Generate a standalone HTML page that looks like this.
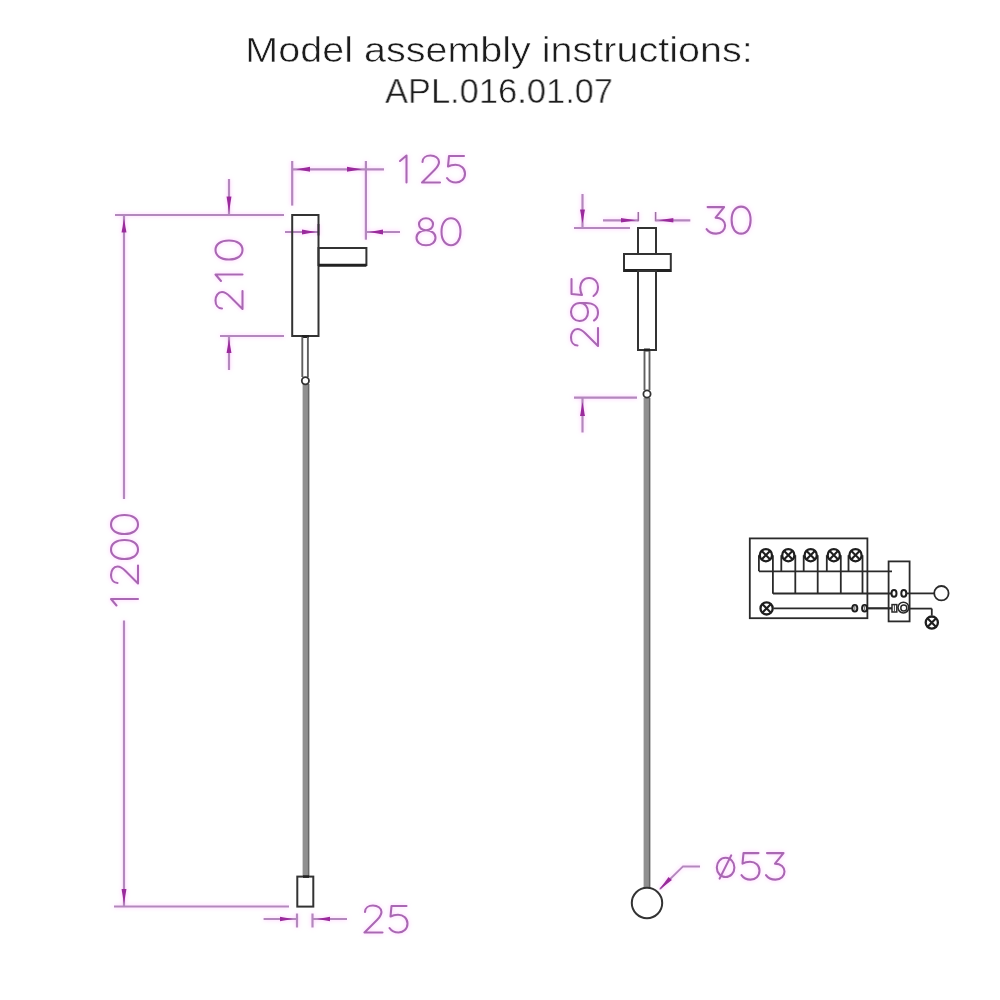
<!DOCTYPE html>
<html><head><meta charset="utf-8"><title>Model assembly instructions</title>
<style>
html,body{margin:0;padding:0;background:#fff;}
body{width:1000px;height:1000px;position:relative;overflow:hidden;font-family:"Liberation Sans",sans-serif;}
.t{will-change:transform;-webkit-text-stroke:0.55px #fff;position:absolute;left:0;width:1000px;text-align:center;color:#1c1c1c;font-size:35px;line-height:normal;white-space:nowrap;}
</style></head><body>
<div class="t" id="l1" style="top:29.8px;left:-1px;transform:scaleX(1.129)">Model assembly instructions:</div>
<div class="t" id="l2" style="top:71.3px;left:-1.5px;transform:scaleX(0.985)">APL.016.01.07</div>
<svg width="1000" height="1000" viewBox="0 0 1000 1000" style="position:absolute;left:0;top:0">
<defs><filter id="halo" x="-2%" y="-2%" width="104%" height="104%">
<feGaussianBlur in="SourceAlpha" stdDeviation="2" result="b"/>
<feColorMatrix in="b" type="matrix" values="0 0 0 0 1  0 0 0 0 0.42  0 0 0 0 1  0 0 0 0.7 0" result="p"/>
<feGaussianBlur in="SourceGraphic" stdDeviation="0.5" result="s"/>
<feMerge><feMergeNode in="p"/><feMergeNode in="s"/></feMerge>
</filter></defs>
<g filter="url(#halo)">
<g><line x1="115" y1="215" x2="284" y2="215" stroke="#b288bc" stroke-width="2.2"/><line x1="124" y1="215" x2="124" y2="499" stroke="#b288bc" stroke-width="2.2"/><line x1="124" y1="620.5" x2="124" y2="906.5" stroke="#b288bc" stroke-width="2.2"/><polygon points="124.0,218.5 121.5,232.5 126.5,232.5" fill="#9a2c9c"/><polygon points="124.0,904.0 121.5,889.0 126.5,889.0" fill="#9a2c9c"/><line x1="114" y1="906.5" x2="289" y2="906.5" stroke="#b288bc" stroke-width="2.2"/><line x1="229" y1="179" x2="229" y2="215" stroke="#b288bc" stroke-width="2.2"/><polygon points="229.0,212.5 226.5,196.5 231.5,196.5" fill="#9a2c9c"/><line x1="220" y1="336" x2="284" y2="336" stroke="#b288bc" stroke-width="2.2"/><line x1="229" y1="336" x2="229" y2="370" stroke="#b288bc" stroke-width="2.2"/><polygon points="229.0,339.0 226.5,353.0 231.5,353.0" fill="#9a2c9c"/><line x1="292.2" y1="161" x2="292.2" y2="205.6" stroke="#b288bc" stroke-width="2.2"/><line x1="365.9" y1="161" x2="365.9" y2="239.7" stroke="#b288bc" stroke-width="2.2"/><line x1="292" y1="169.3" x2="384" y2="169.3" stroke="#b288bc" stroke-width="2.2"/><polygon points="296.0,169.3 310.0,166.8 310.0,171.8" fill="#9a2c9c"/><polygon points="362.0,169.3 347.0,166.8 347.0,171.8" fill="#9a2c9c"/><line x1="285" y1="232" x2="318.5" y2="232" stroke="#b288bc" stroke-width="2.2"/><polygon points="316.0,232.0 302.0,229.5 302.0,234.5" fill="#9a2c9c"/><line x1="318.5" y1="224" x2="318.5" y2="235.5" stroke="#5a3a6a" stroke-width="2"/><line x1="366" y1="232" x2="400" y2="232" stroke="#b288bc" stroke-width="2.2"/><polygon points="369.0,232.0 383.0,229.5 383.0,234.5" fill="#9a2c9c"/><line x1="263.6" y1="919" x2="297" y2="919" stroke="#b288bc" stroke-width="2.2"/><polygon points="293.0,919.0 280.0,916.8 280.0,921.2" fill="#9a2c9c"/><line x1="297" y1="913.5" x2="297" y2="927.5" stroke="#b288bc" stroke-width="2.2"/><line x1="312.5" y1="913.5" x2="312.5" y2="927.5" stroke="#b288bc" stroke-width="2.2"/><line x1="312.5" y1="919" x2="347" y2="919" stroke="#b288bc" stroke-width="2.2"/><polygon points="317.0,919.0 330.0,916.8 330.0,921.2" fill="#9a2c9c"/><line x1="582.5" y1="194" x2="582.5" y2="228" stroke="#b288bc" stroke-width="2.2"/><polygon points="582.5,223.5 580.0,209.5 585.0,209.5" fill="#9a2c9c"/><line x1="574" y1="228" x2="630" y2="228" stroke="#b288bc" stroke-width="2.2"/><line x1="603" y1="220.3" x2="638.3" y2="220.3" stroke="#b288bc" stroke-width="2.2"/><polygon points="636.0,220.3 621.0,218.1 621.0,222.6" fill="#9a2c9c"/><line x1="638.3" y1="212" x2="638.3" y2="221.3" stroke="#9a70a0" stroke-width="1.6"/><line x1="655.6" y1="212" x2="655.6" y2="221.3" stroke="#9a70a0" stroke-width="1.6"/><line x1="655.6" y1="220.3" x2="690.3" y2="220.3" stroke="#b288bc" stroke-width="2.2"/><polygon points="658.4,220.3 673.4,218.1 673.4,222.6" fill="#9a2c9c"/><line x1="574" y1="397.7" x2="637" y2="397.7" stroke="#b288bc" stroke-width="2.2"/><line x1="582.5" y1="398" x2="582.5" y2="432.5" stroke="#b288bc" stroke-width="2.2"/><polygon points="582.5,402.0 580.0,416.0 585.0,416.0" fill="#9a2c9c"/><polyline points="660,889 683,866.4 700,866.4" fill="none" stroke="#b288bc" stroke-width="2"/><polygon points="659,890 668.5,877 672,880" fill="#9a2c9c"/></g>
<g fill="none" stroke="#a868b2" stroke-width="2.1" stroke-linecap="round" stroke-linejoin="round"><g transform="translate(396.5,155.5)"><path transform="translate(0,0)" d="M3.5,5.5 L10,0 L10,27"/><path transform="translate(25,0)" d="M1,6.5 C1,2.5 4.5,0 9,0 C13.5,0 17.5,2.5 17.5,6.5 C17.5,9.5 15.5,12 13,14.5 L0.5,27 L18.5,27"/><path transform="translate(50,0)" d="M17.5,0.5 L2.5,0.5 L1.5,11 C3.5,9.8 6,9.2 9,9.2 C14.5,9.2 18.5,12.8 18.5,18 C18.5,23.5 14.5,27 9.5,27 C5.5,27 2.5,25.5 0.5,22.5"/></g><g transform="translate(416.5,218.3)"><path transform="translate(0,0)" d="M9.5,0 C13.5,0 16.5,2.5 16.5,6 C16.5,9.5 13.5,12 9.5,12 C5.5,12 2.5,9.5 2.5,6 C2.5,2.5 5.5,0 9.5,0 Z M9.5,12 C15,12 19,15 19,19.5 C19,24 15,27 9.5,27 C4,27 0,24 0,19.5 C0,15 4,12 9.5,12 Z"/><path transform="translate(25,0)" d="M9.5,0 C15,0 19,5 19,13.5 C19,22 15,27 9.5,27 C4,27 0,22 0,13.5 C0,5 4,0 9.5,0 Z"/></g><g transform="translate(706.6,206.6)"><path transform="translate(0,0)" d="M1,0.5 L17.5,0.5 L9,11 C15,11 18.5,14.5 18.5,19 C18.5,23.5 15,27 9.5,27 C5,27 2,25.5 0,22.5"/><path transform="translate(25,0)" d="M9.5,0 C15,0 19,5 19,13.5 C19,22 15,27 9.5,27 C4,27 0,22 0,13.5 C0,5 4,0 9.5,0 Z"/></g><g transform="translate(364,905.5)"><path transform="translate(0,0)" d="M1,6.5 C1,2.5 4.5,0 9,0 C13.5,0 17.5,2.5 17.5,6.5 C17.5,9.5 15.5,12 13,14.5 L0.5,27 L18.5,27"/><path transform="translate(25,0)" d="M17.5,0.5 L2.5,0.5 L1.5,11 C3.5,9.8 6,9.2 9,9.2 C14.5,9.2 18.5,12.8 18.5,18 C18.5,23.5 14.5,27 9.5,27 C5.5,27 2.5,25.5 0.5,22.5"/></g><g transform="translate(716,852.6)"><path transform="translate(0,0)" d="M9.6,5.2 C14.5,5.2 18.4,9.5 18.4,14.8 C18.4,20.1 14.5,24.4 9.6,24.4 C4.7,24.4 0.8,20.1 0.8,14.8 C0.8,9.5 4.7,5.2 9.6,5.2 Z M3.6,26 L15.2,2.8"/><path transform="translate(25,0)" d="M17.5,0.5 L2.5,0.5 L1.5,11 C3.5,9.8 6,9.2 9,9.2 C14.5,9.2 18.5,12.8 18.5,18 C18.5,23.5 14.5,27 9.5,27 C5.5,27 2.5,25.5 0.5,22.5"/><path transform="translate(50,0)" d="M1,0.5 L17.5,0.5 L9,11 C15,11 18.5,14.5 18.5,19 C18.5,23.5 15,27 9.5,27 C5,27 2,25.5 0,22.5"/></g><g transform="translate(215.5,309.5) rotate(-90)"><path transform="translate(0,0)" d="M1,6.5 C1,2.5 4.5,0 9,0 C13.5,0 17.5,2.5 17.5,6.5 C17.5,9.5 15.5,12 13,14.5 L0.5,27 L18.5,27"/><path transform="translate(25,0)" d="M3.5,5.5 L10,0 L10,27"/><path transform="translate(50,0)" d="M9.5,0 C15,0 19,5 19,13.5 C19,22 15,27 9.5,27 C4,27 0,22 0,13.5 C0,5 4,0 9.5,0 Z"/></g><g transform="translate(111,609) rotate(-90)"><path transform="translate(0,0)" d="M3.5,5.5 L10,0 L10,27"/><path transform="translate(25,0)" d="M1,6.5 C1,2.5 4.5,0 9,0 C13.5,0 17.5,2.5 17.5,6.5 C17.5,9.5 15.5,12 13,14.5 L0.5,27 L18.5,27"/><path transform="translate(50,0)" d="M9.5,0 C15,0 19,5 19,13.5 C19,22 15,27 9.5,27 C4,27 0,22 0,13.5 C0,5 4,0 9.5,0 Z"/><path transform="translate(75,0)" d="M9.5,0 C15,0 19,5 19,13.5 C19,22 15,27 9.5,27 C4,27 0,22 0,13.5 C0,5 4,0 9.5,0 Z"/></g><g transform="translate(571,346.5) rotate(-90)"><path transform="translate(0,0)" d="M1,6.5 C1,2.5 4.5,0 9,0 C13.5,0 17.5,2.5 17.5,6.5 C17.5,9.5 15.5,12 13,14.5 L0.5,27 L18.5,27"/><path transform="translate(25,0)" d="M18.5,9 C18.5,14 14.5,17 9.5,17 C4.5,17 0.5,14 0.5,8.5 C0.5,3.5 4.5,0 9.5,0 C14.5,0 18.5,3.5 18.5,9 L18.5,15 C18.5,23 14.5,27 9,27 C5,27 2.5,25.5 1,23"/><path transform="translate(50,0)" d="M17.5,0.5 L2.5,0.5 L1.5,11 C3.5,9.8 6,9.2 9,9.2 C14.5,9.2 18.5,12.8 18.5,18 C18.5,23.5 14.5,27 9.5,27 C5.5,27 2.5,25.5 0.5,22.5"/></g></g>
</g>
<g><rect x="292.2" y="215" width="26.3" height="121" fill="none" stroke="#333" stroke-width="2"/><rect x="318.5" y="248" width="47.9" height="17" fill="none" stroke="#333" stroke-width="2"/><line x1="318.5" y1="265.3" x2="366.4" y2="265.3" stroke="#222" stroke-width="3"/><line x1="302" y1="336.5" x2="309" y2="336.5" stroke="#222" stroke-width="3"/><line x1="302.3" y1="337" x2="302.3" y2="377" stroke="#606060" stroke-width="1.9"/><line x1="307.9" y1="337" x2="307.9" y2="377" stroke="#606060" stroke-width="1.9"/><rect x="302.6" y="384" width="6.6" height="492.6" fill="#909090"/><line x1="308.6" y1="384" x2="308.6" y2="876.6" stroke="#666" stroke-width="1.4"/><circle cx="305.4" cy="380.8" r="3.6" fill="#fff" stroke="#333" stroke-width="1.8"/><rect x="297.3" y="876.6" width="16" height="30" fill="none" stroke="#333" stroke-width="2"/><line x1="303" y1="876.6" x2="309" y2="876.6" stroke="#222" stroke-width="2.5"/><rect x="638" y="228" width="18" height="26" fill="none" stroke="#333" stroke-width="2"/><rect x="624" y="254" width="46.8" height="17" fill="none" stroke="#333" stroke-width="2"/><line x1="624" y1="270.5" x2="670.8" y2="270.5" stroke="#222" stroke-width="3"/><rect x="638" y="271" width="18" height="79" fill="none" stroke="#333" stroke-width="2"/><line x1="644" y1="350" x2="650" y2="350" stroke="#222" stroke-width="3"/><line x1="644.5" y1="351" x2="644.5" y2="390" stroke="#606060" stroke-width="1.9"/><line x1="649.5" y1="351" x2="649.5" y2="390" stroke="#606060" stroke-width="1.9"/><rect x="643.6" y="398" width="6.6" height="490" fill="#909090"/><line x1="649.6" y1="398" x2="649.6" y2="888" stroke="#666" stroke-width="1.4"/><circle cx="647" cy="394" r="3.6" fill="#fff" stroke="#333" stroke-width="1.8"/><circle cx="647" cy="903" r="15.2" fill="none" stroke="#333" stroke-width="2"/></g>
<g><rect x="749.8" y="538.4" width="117.6" height="79.8" fill="none" stroke="#2a2a2a" stroke-width="1.8"/><rect x="888.6" y="561.4" width="21" height="60" fill="none" stroke="#2a2a2a" stroke-width="1.8"/><line x1="758.9" y1="555.2" x2="758.9" y2="571.3" stroke="#2a2a2a" stroke-width="1.8"/><line x1="772.9" y1="555.2" x2="772.9" y2="593.7" stroke="#2a2a2a" stroke-width="1.8"/><circle cx="765.9" cy="555.2" r="6.1" fill="#fff" stroke="#1e1e1e" stroke-width="2.3"/><path d="M761.3,550.6 L770.5,559.8 M770.5,550.6 L761.3,559.8" stroke="#1e1e1e" stroke-width="2.1"/><line x1="781.3" y1="555.2" x2="781.3" y2="571.3" stroke="#2a2a2a" stroke-width="1.8"/><line x1="795.3" y1="555.2" x2="795.3" y2="593.7" stroke="#2a2a2a" stroke-width="1.8"/><circle cx="788.3" cy="555.2" r="6.1" fill="#fff" stroke="#1e1e1e" stroke-width="2.3"/><path d="M783.7,550.6 L792.9,559.8 M792.9,550.6 L783.7,559.8" stroke="#1e1e1e" stroke-width="2.1"/><line x1="803.7" y1="555.2" x2="803.7" y2="571.3" stroke="#2a2a2a" stroke-width="1.8"/><line x1="817.7" y1="555.2" x2="817.7" y2="593.7" stroke="#2a2a2a" stroke-width="1.8"/><circle cx="810.7" cy="555.2" r="6.1" fill="#fff" stroke="#1e1e1e" stroke-width="2.3"/><path d="M806.1,550.6 L815.3,559.8 M815.3,550.6 L806.1,559.8" stroke="#1e1e1e" stroke-width="2.1"/><line x1="826.8" y1="555.2" x2="826.8" y2="571.3" stroke="#2a2a2a" stroke-width="1.8"/><line x1="840.8" y1="555.2" x2="840.8" y2="593.7" stroke="#2a2a2a" stroke-width="1.8"/><circle cx="833.8" cy="555.2" r="6.1" fill="#fff" stroke="#1e1e1e" stroke-width="2.3"/><path d="M829.2,550.6 L838.4,559.8 M838.4,550.6 L829.2,559.8" stroke="#1e1e1e" stroke-width="2.1"/><line x1="848.5" y1="555.2" x2="848.5" y2="571.3" stroke="#2a2a2a" stroke-width="1.8"/><line x1="862.5" y1="555.2" x2="862.5" y2="593.7" stroke="#2a2a2a" stroke-width="1.8"/><circle cx="855.5" cy="555.2" r="6.1" fill="#fff" stroke="#1e1e1e" stroke-width="2.3"/><path d="M850.9,550.6 L860.1,559.8 M860.1,550.6 L850.9,559.8" stroke="#1e1e1e" stroke-width="2.1"/><line x1="759" y1="571.3" x2="892" y2="571.3" stroke="#2a2a2a" stroke-width="1.8"/><line x1="773" y1="593.5" x2="891.5" y2="593.5" stroke="#2a2a2a" stroke-width="1.8"/><line x1="773.6" y1="608.3" x2="852" y2="608.3" stroke="#2a2a2a" stroke-width="1.8"/><circle cx="766.6" cy="608.4" r="6.1" fill="#fff" stroke="#1e1e1e" stroke-width="2.3"/><path d="M762.0,603.8 L771.2,613.0 M771.2,603.8 L762.0,613.0" stroke="#1e1e1e" stroke-width="2.1"/><ellipse cx="854.8" cy="608.3" rx="2.5" ry="3.3" fill="#fff" stroke="#1e1e1e" stroke-width="2"/><line x1="854.8" y1="605.5" x2="854.8" y2="611" stroke="#777" stroke-width="1.2"/><ellipse cx="864.6" cy="608.3" rx="2.5" ry="3.3" fill="#fff" stroke="#1e1e1e" stroke-width="2"/><line x1="864.6" y1="605.5" x2="864.6" y2="611" stroke="#777" stroke-width="1.2"/><line x1="867.4" y1="608.3" x2="892" y2="608.3" stroke="#2a2a2a" stroke-width="2.2"/><ellipse cx="894" cy="593.4" rx="2.5" ry="3.3" fill="#fff" stroke="#1e1e1e" stroke-width="2"/><ellipse cx="903.8" cy="593.4" rx="2.5" ry="3.3" fill="#fff" stroke="#1e1e1e" stroke-width="2"/><rect x="892" y="604.6" width="4.8" height="7.4" fill="#fff" stroke="#2a2a2a" stroke-width="1.5"/><line x1="894.4" y1="605" x2="894.4" y2="611.6" stroke="#444" stroke-width="1"/><circle cx="903.4" cy="607.6" r="5.4" fill="#fff" stroke="#2a2a2a" stroke-width="1.6"/><circle cx="903.8" cy="608" r="3" fill="none" stroke="#2a2a2a" stroke-width="1.5"/><line x1="906" y1="593.4" x2="934.2" y2="593.4" stroke="#2a2a2a" stroke-width="1.8"/><circle cx="941.4" cy="593.2" r="7.2" fill="#fff" stroke="#2a2a2a" stroke-width="1.8"/><line x1="909.6" y1="608.6" x2="931.8" y2="608.6" stroke="#2a2a2a" stroke-width="1.8"/><line x1="931.8" y1="608.6" x2="931.8" y2="615.5" stroke="#2a2a2a" stroke-width="1.8"/><circle cx="931.8" cy="622.6" r="6.1" fill="#fff" stroke="#1e1e1e" stroke-width="2.3"/><path d="M927.2,618.0 L936.4,627.2 M936.4,618.0 L927.2,627.2" stroke="#1e1e1e" stroke-width="2.1"/></g>
</svg>
</body></html>
